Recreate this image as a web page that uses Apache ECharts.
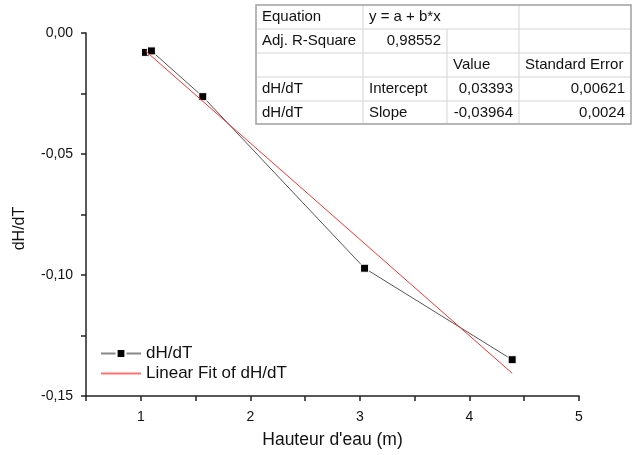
<!DOCTYPE html>
<html>
<head>
<meta charset="utf-8">
<script src="https://cdn.jsdelivr.net/npm/echarts@6/dist/echarts.min.js"></script>
<style>
  html, body { margin: 0; padding: 0; background: #fff; }
  #chart { width: 635px; height: 455px; }
</style>
</head>
<body>
<div id="chart"></div>
<script>
// valeurs mesurées
var hauteur = [1.043, 1.097, 1.566, 3.043, 4.39];
var dHdT = [-0.0080, -0.0074, -0.0263, -0.0972, -0.1350];
// extrémités de la droite de régression
var fitX = [1.043, 4.39];
var fitY = [-0.0074, -0.1406];

// tableau des résultats du fit
var tableRows = [
    ['Equation', 'y = a + b*x', '', ''],
    ['Adj. R-Square', '0,98552', '', ''],
    ['', '', 'Value', 'Standard Error'],
    ['dH/dT', 'Intercept', '0,03393', '0,00621'],
    ['dH/dT', 'Slope', '-0,03964', '0,0024']
];

var FONT = 'Liberation Sans, Arial, sans-serif';

function pairs(xs, ys) {
    var out = [];
    for (var i = 0; i < xs.length; i++) {
        out.push([xs[i], ys[i]]);
    }
    return out;
}

// construction du tableau en éléments graphiques
function buildTable() {
    var colX = [256, 363, 447, 519, 631];
    var rowY = [5, 29, 53, 77, 101, 124];
    var els = [];
    els.push({
        type: 'rect',
        shape: {x: colX[0], y: rowY[0], width: colX[4] - colX[0], height: rowY[5] - rowY[0]},
        style: {fill: '#fff', stroke: 'none'}
    });
    // lignes horizontales internes
    for (var r = 1; r < rowY.length - 1; r++) {
        els.push({
            type: 'line',
            shape: {x1: colX[0], y1: rowY[r], x2: colX[4], y2: rowY[r]},
            style: {stroke: '#d4d4d4', lineWidth: 1}
        });
    }
    // lignes verticales internes
    for (var c = 1; c < colX.length - 1; c++) {
        for (var r2 = 0; r2 < rowY.length - 1; r2++) {
            if (r2 === 0 && c === 2) continue; // cellule fusionnée "y = a + b*x"
            els.push({
                type: 'line',
                shape: {x1: colX[c], y1: rowY[r2], x2: colX[c], y2: rowY[r2 + 1]},
                style: {stroke: '#d4d4d4', lineWidth: 1}
            });
        }
    }
    els.push({
        type: 'rect',
        shape: {x: colX[0], y: rowY[0], width: colX[4] - colX[0], height: rowY[5] - rowY[0]},
        style: {fill: 'none', stroke: '#a0a0a0', lineWidth: 1.5}
    });
    // textes
    tableRows.forEach(function (row, ri) {
        var cy = (rowY[ri] + rowY[ri + 1]) / 2;
        row.forEach(function (txt, ci) {
            if (!txt) return;
            var isNum = /^-?0,\d+$/.test(txt);
            els.push({
                type: 'text',
                x: isNum ? colX[ci + 1] - 6 : colX[ci] + 6,
                y: cy,
                style: {
                    text: txt,
                    fill: '#111',
                    font: '15px ' + FONT,
                    align: isNum ? 'right' : 'left',
                    verticalAlign: 'middle'
                }
            });
        });
    });
    return els;
}

var myChart = echarts.init(document.getElementById('chart'));
var option = {
    backgroundColor: '#fff',
    animation: false,
    grid: {left: 86, right: 56, top: 33, bottom: 59, outerBoundsMode: 'none'},
    legend: {
        orient: 'vertical',
        left: 95,
        top: 340,
        itemWidth: 40,
        itemHeight: 11,
        itemGap: 3,
        textStyle: {fontFamily: FONT, fontSize: 17, color: '#111'},
        data: [
            {name: 'dH/dT', lineStyle: {color: '#888'}},
            {name: 'Linear Fit of dH/dT', itemStyle: {opacity: 0}, lineStyle: {color: '#ff7070'}}
        ]
    },
    xAxis: {
        type: 'value',
        min: 0.5,
        max: 5,
        interval: 0.5,
        name: "Hauteur d'eau (m)",
        nameLocation: 'middle',
        nameGap: 35,
        nameTextStyle: {fontFamily: FONT, fontSize: 17.5, color: '#111'},
        axisLine: {onZero: false, lineStyle: {color: '#222', width: 1.5}},
        axisTick: {length: 5, lineStyle: {color: '#222', width: 1.5}},
        axisLabel: {
            margin: 14,
            fontFamily: FONT,
            fontSize: 14,
            color: '#111',
            formatter: function (v) {
                return Math.abs(v - Math.round(v)) < 1e-6 ? String(Math.round(v)) : '';
            }
        },
        splitLine: {show: false}
    },
    yAxis: {
        type: 'value',
        min: -0.15,
        max: 0,
        interval: 0.025,
        name: 'dH/dT',
        nameLocation: 'middle',
        nameGap: 58,
        nameTextStyle: {fontFamily: FONT, fontSize: 16, color: '#111', padding: [0, 0, 0, -28]},
        axisLine: {onZero: false, lineStyle: {color: '#222', width: 1.5}},
        axisTick: {length: 5, lineStyle: {color: '#222', width: 1.5}},
        axisLabel: {
            margin: 13,
            fontFamily: FONT,
            fontSize: 14,
            color: '#111',
            formatter: function (v) {
                var m = Math.abs(Math.round(v * 1000));
                if (m % 50 !== 0) return '';
                var s = Math.abs(v).toFixed(2).replace('.', ',');
                return (m === 0 ? '' : '-') + s;
            }
        },
        splitLine: {show: false}
    },
    graphic: buildTable(),
    series: [
        {
            name: 'dH/dT',
            type: 'line',
            data: pairs(hauteur, dHdT),
            symbol: 'rect',
            symbolSize: 8,
            lineStyle: {color: '#555', width: 1},
            itemStyle: {color: '#000', borderColor: '#fff', borderWidth: 1},
            z: 3
        },
        {
            name: 'Linear Fit of dH/dT',
            type: 'line',
            data: pairs(fitX, fitY),
            symbol: 'none',
            lineStyle: {color: '#ff3030', width: 1},
            itemStyle: {color: '#ff3030'},
            z: 4
        }
    ]
};
myChart.setOption(option);
</script>
</body>
</html>
